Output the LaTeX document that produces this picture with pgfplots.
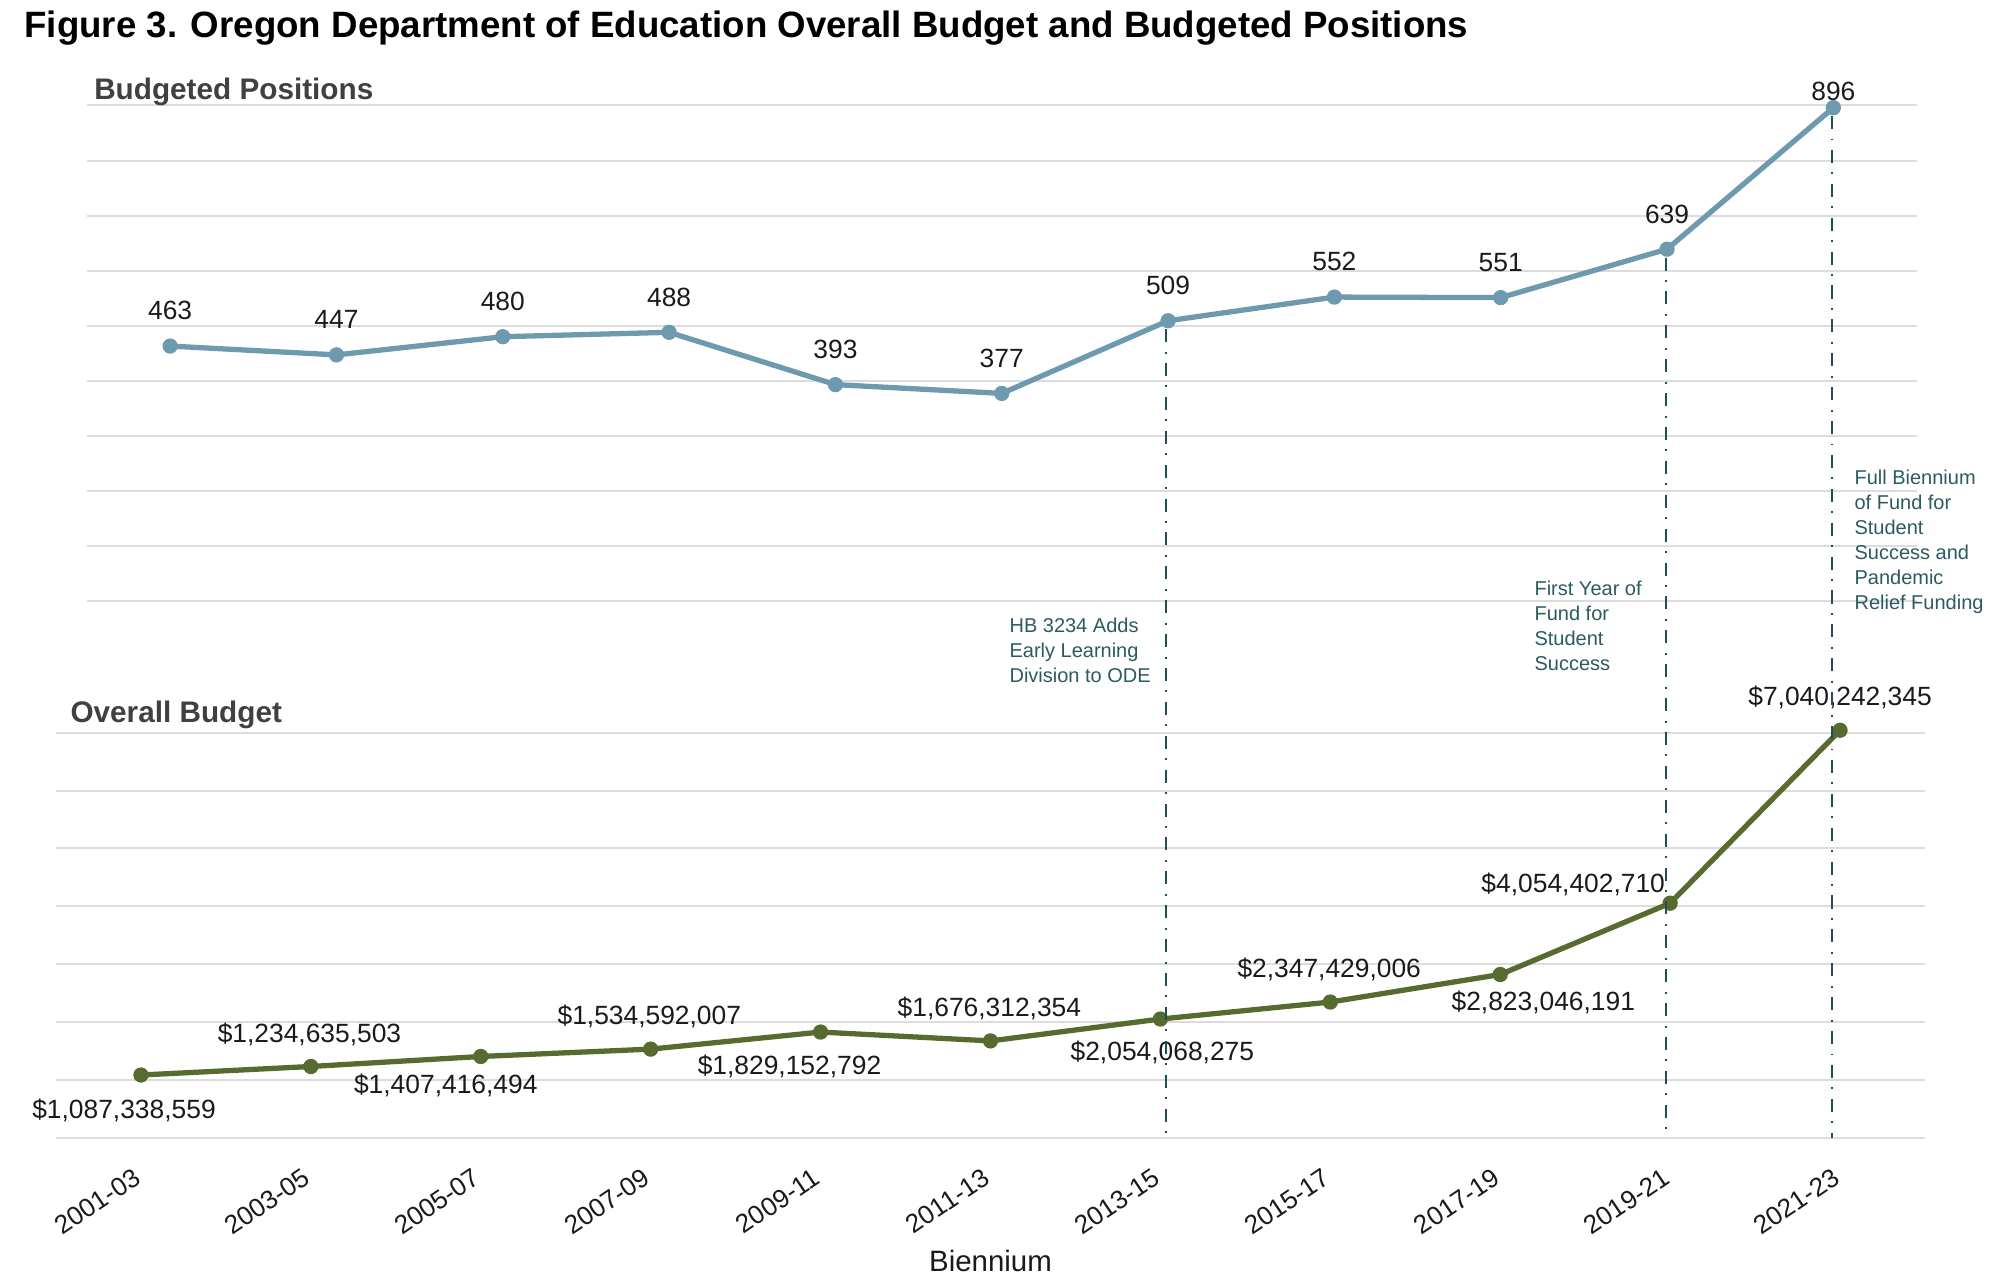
\documentclass[border=0pt]{standalone}
\usepackage{pgfplots}
\pgfplotsset{compat=1.18}
\usepackage{fontspec}
\setmainfont{Liberation Sans}
\definecolor{topc}{HTML}{6E9AB0}
\definecolor{botc}{HTML}{576B31}
\definecolor{vline}{HTML}{1F4E55}
\definecolor{annc}{HTML}{2B5A60}
\definecolor{gridc}{HTML}{DCDCDC}
\definecolor{ptitle}{HTML}{404040}
\definecolor{lbl}{HTML}{1A1A1A}
\pgfplotsset{
  panel/.style={
    scale only axis,
    anchor=south west,
    clip=false,
    axis line style={draw=none},
    major tick length=0pt,
    ymajorgrids,
    grid style={gridc, line width=0.72pt},
    yticklabels={},
    xmin=-0.5, xmax=10.5,
  },
}
\begin{document}
\begin{tikzpicture}
\path[use as bounding box] (0,0) rectangle (720pt,462.24pt);
% title
\node[anchor=base west, inner sep=0pt, font=\bfseries\fontsize{13.2}{15}\selectfont] at (8.64pt,448.8pt)
  {Figure 3. Oregon Department of Education Overall Budget and Budgeted Positions};
% ---------------- top panel
\begin{axis}[panel,
  at={(31.32pt,245.88pt)}, width=658.62pt, height=178.38pt,
  ymin=0, ymax=900, ytick={0,100,...,900},
  xtick=\empty,
]
\addplot[topc, line width=1.9pt, mark=*, mark size=2.5pt,
  mark options={fill=topc, draw=topc, line width=0.5pt}] coordinates {
  (0,463) (1,447) (2,480) (3,488) (4,393) (5,377) (6,509) (7,552) (8,551) (9,639) (10,896)};
\coordinate (v1) at (axis cs:5.985,509);
\coordinate (v2) at (axis cs:8.995,639);
\coordinate (v3) at (axis cs:9.99,896);
\begin{scope}[every node/.style={anchor=base, inner sep=0pt, text=lbl, font=\fontsize{9.5}{11}\selectfont}]
\node[yshift=9.4pt] at (axis cs:0,463) {463};
\node[yshift=9.4pt] at (axis cs:1,447) {447};
\node[yshift=9.4pt] at (axis cs:2,480) {480};
\node[yshift=9.4pt] at (axis cs:3,488) {488};
\node[yshift=9.4pt] at (axis cs:4,393) {393};
\node[yshift=9.4pt] at (axis cs:5,377) {377};
\node[yshift=9.4pt] at (axis cs:6,509) {509};
\node[yshift=9.4pt] at (axis cs:7,552) {552};
\node[yshift=9.4pt] at (axis cs:8,551) {551};
\node[yshift=9.4pt] at (axis cs:9,639) {639};
\node[yshift=2.7pt] at (axis cs:10,896) {896};
\end{scope}
\end{axis}
% ---------------- bottom panel
\begin{axis}[panel,
  at={(20.16pt,52.56pt)}, width=672.84pt, height=145.94pt,
  ymin=0, ymax=7000, ytick={0,1000,...,7000},
  xtick={0,...,10},
  xticklabels={2001-03,2003-05,2005-07,2007-09,2009-11,2011-13,2013-15,2015-17,2017-19,2019-21,2021-23},
  xticklabel style={rotate=34, anchor=north east, inner sep=0pt, text=lbl,
    font=\fontsize{9.4}{11}\selectfont, xshift=-8.3pt, yshift=-6.6pt},
]
\addplot[botc, line width=1.9pt, mark=*, mark size=2.5pt,
  mark options={fill=botc, draw=botc, line width=0.5pt}] coordinates {
  (0,1087.338559) (1,1234.635503) (2,1407.416494) (3,1534.592007) (4,1829.152792)
  (5,1676.312354) (6,2054.068275) (7,2347.429006) (8,2823.046191) (9,4054.402710) (10,7040.242345)};
\coordinate (b0) at (axis cs:0,0);
\begin{scope}[every node/.style={anchor=base, inner sep=0pt, text=lbl, font=\fontsize{9.5}{11}\selectfont}]
\node[xshift=-6.1pt, yshift=-15.7pt] at (axis cs:0,1087.338559) {\$1,087,338,559};
\node[xshift=-0.5pt, yshift=8.8pt] at (axis cs:1,1234.635503) {\$1,234,635,503};
\node[xshift=-12.6pt, yshift=-13.5pt] at (axis cs:2,1407.416494) {\$1,407,416,494};
\node[xshift=-0.5pt, yshift=8.8pt] at (axis cs:3,1534.592007) {\$1,534,592,007};
\node[xshift=-11.2pt, yshift=-15.3pt] at (axis cs:4,1829.152792) {\$1,829,152,792};
\node[xshift=-0.4pt, yshift=8.8pt] at (axis cs:5,1676.312354) {\$1,676,312,354};
\node[xshift=0.7pt, yshift=-15.1pt] at (axis cs:6,2054.068275) {\$2,054,068,275};
\node[xshift=-0.4pt, yshift=8.8pt] at (axis cs:7,2347.429006) {\$2,347,429,006};
\node[xshift=15.5pt, yshift=-13.1pt] at (axis cs:8,2823.046191) {\$2,823,046,191};
\node[xshift=-34.9pt, yshift=3.8pt] at (axis cs:9,4054.402710) {\$4,054,402,710};
\node[xshift=0pt, yshift=9.0pt] at (axis cs:10,7040.242345) {\$7,040,242,345};
\end{scope}
\end{axis}
% vertical event lines
\begin{scope}[vline, line width=0.75pt, dash pattern=on 4.7pt off 3.4pt on 0.7pt off 3.4pt]
\draw ([yshift=-3pt]v1) -- (v1 |- b0);
\draw ([yshift=-3pt]v2) -- (v2 |- b0);
\draw ([yshift=-3pt]v3) -- (v3 |- b0);
\end{scope}
% panel titles
\node[anchor=base west, inner sep=0pt, text=ptitle, font=\bfseries\fontsize{10.7}{12}\selectfont] at (33.73pt,426.24pt) {Budgeted Positions};
\node[anchor=base west, inner sep=0pt, text=ptitle, font=\bfseries\fontsize{10.7}{12}\selectfont] at (25.2pt,202.0pt) {Overall Budget};
% annotations
\begin{scope}[every node/.style={anchor=north west, inner sep=0pt, align=left, text=annc, font=\fontsize{7.2}{9}\selectfont}]
\node at (363.24pt,239.87pt) {HB 3234 Adds\\Early Learning\\Division to ODE};
\node at (552.24pt,253.19pt) {First Year of\\Fund for\\Student\\Success};
\node at (667.44pt,293.15pt) {Full Biennium\\of Fund for\\Student\\Success and\\Pandemic\\Relief Funding};
\end{scope}
% x axis title
\node[anchor=base, inner sep=0pt, text=lbl, font=\fontsize{10.6}{12}\selectfont] at (356.58pt,4.5pt) {Biennium};
\end{tikzpicture}
\end{document}
